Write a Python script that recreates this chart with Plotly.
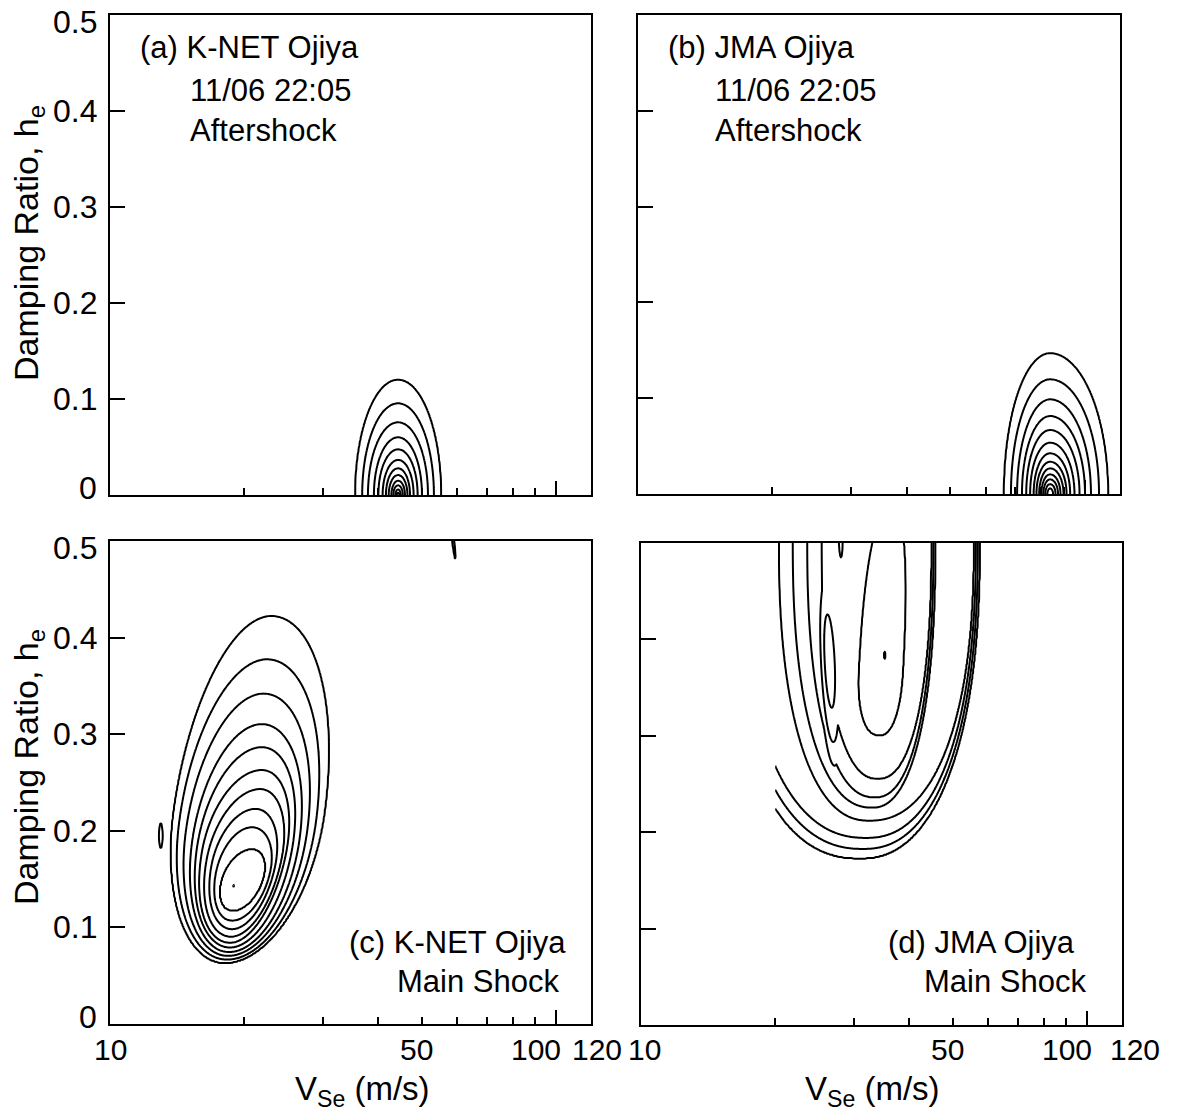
import numpy as np
import plotly.graph_objects as go

W, H = 1178, 1113
FONT = "Liberation Sans, Arial, Helvetica, sans-serif"
FS_YTICK = 32
FS_XTICK = 30
FS_CAPTION = 31
FS_YTITLE = 34
FS_XTITLE = 33

# ---------------- shared axes ----------------
V_RANGE = [10, 120]
H_RANGE = [0.0, 0.5]
Y_TICKS = [0.1, 0.2, 0.3, 0.4]
Y_LABEL_VALUES = [0, 0.1, 0.2, 0.3, 0.4, 0.5]
Y_LABEL_TEXT = ["0", "0.1", "0.2", "0.3", "0.4", "0.5"]
X_MAJOR = [10, 100]
X_MINOR = [20, 30, 40, 50, 60, 70, 80, 90]
X_LABEL_VALUES = [10, 50, 100, 120]
X_LABEL_TEXT = ["10", "50", "100", "120"]

# ---------------- (a) K-NET Ojiya, aftershock ----------------
# misfit contours (outer -> inner) resting on h = 0
a_center_V = 44.3
a_left_V = [35.5, 36.8, 37.9, 39.1, 40.0, 40.9, 41.6, 42.2, 42.8, 43.2, 43.7, 44.0]
a_right_V = [55.3, 53.3, 51.7, 50.1, 49.0, 48.0, 47.1, 46.5, 45.9, 45.4, 44.9, 44.6]
a_top_h = [0.120, 0.0955, 0.0757, 0.0601, 0.0476, 0.0365, 0.0278, 0.0208, 0.0149,
           0.0101, 0.0059, 0.0024]

# ---------------- (b) JMA Ojiya, aftershock ----------------
b_center_V = 83.7
b_left_V = [66.0, 68.4, 70.6, 72.4, 74.0, 75.5, 76.9, 78.0, 79.1, 80.0, 80.8, 81.6, 82.5]
b_right_V = [112.8, 107.7, 103.3, 100.2, 97.4, 94.9, 92.8, 91.1, 89.7, 88.3, 87.2, 86.1, 85.0]
b_top_h = [0.1468, 0.1197, 0.0988, 0.0814, 0.0668, 0.0536, 0.0425, 0.0337, 0.0268,
           0.0205, 0.0153, 0.0104, 0.0059]

# ---------------- (c) K-NET Ojiya, main shock ----------------
# extreme points of each closed contour (outer -> inner, last = minimum)
c_left_V = [13.9, 14.3, 14.8, 15.3, 15.7, 16.1, 16.5, 16.9, 17.3, 17.8, 18.85]
c_right_V = [30.3, 29.0, 27.7, 26.6, 25.7, 24.9, 24.3, 23.5, 22.9, 22.1, 18.95]
c_side_h = [0.22, 0.21, 0.20, 0.19, 0.185, 0.18, 0.172, 0.165, 0.158, 0.15, 0.143]
c_bottom_h = [0.0634, 0.0666, 0.0705, 0.0744, 0.0792, 0.0840, 0.0903, 0.0981, 0.1069,
              0.1168, 0.1415]
c_top_h = [0.4222, 0.3775, 0.3420, 0.3104, 0.2866, 0.2629, 0.2432, 0.2227, 0.2037,
           0.1812, 0.1445]
c_bottom_V = [18.1, 18.3, 18.4, 18.5, 18.6, 18.6, 18.7, 18.8, 18.8, 18.9, 18.9]
c_top_V = [23.0, 22.5, 22.1, 21.9, 21.9, 21.9, 21.7, 21.2, 20.8, 20.8, 18.9]
# isolated pieces of the outermost level
c_island = [(13.0, 0.208), (13.0, 0.182)]
c_fragment = [(57.8, 0.53), (59.6, 0.48)]

# ---------------- (d) JMA Ojiya, main shock ----------------
# contours open above the searched range (outer -> inner, last = minimum);
# the search starts at V = 20 m/s, so the outer three end on that edge
d_left_V = [15.2, 15.9, 16.7, 20.4, 21.9, 23.6, 25.4, 30.8, 35.1]
d_right_V = [57.5, 57.0, 56.4, 55.9, 45.7, 45.3, 44.9, 38.8, 35.3]
d_side_h = [0.5, 0.5, 0.5, 0.5, 0.5, 0.5, 0.5, 0.37, 0.3835]
d_bottom_h = [0.173, 0.1826, 0.194, 0.212, 0.2255, 0.236, 0.255, 0.300, 0.380]
d_top_h = [0.8, 0.8, 0.8, 0.8, 0.8, 0.8, 0.8, 0.54, 0.387]
d_bottom_V = [31.0, 31.5, 32.0, 32.5, 33.0, 33.5, 34.0, 34.3, 35.2]
d_top_V = [31.0, 31.5, 32.0, 32.5, 33.0, 33.5, 34.0, 36.5, 35.2]
d_loop = [(26.2, 0.426), (26.8, 0.329)]
d_spike = [(28.0, 0.53), (28.1, 0.485)]
d_feature_level = 7
d_V_start = 20.0

# ---------------- surface construction ----------------
PX_DEC = 481 / np.log10(12.0)
PX_H = 480 / 0.5


def ring(LV, HH, xl, xr, yb, yt, xb, xt, cy, p=2.0):
    up_len = yt - cy
    dn_len = cy - yb
    cx = xb + (xt - xb) * dn_len / (up_len + dn_len)
    dy = HH - cy
    up = dy >= 0
    axis = np.where(up, cx + (xt - cx) * dy / up_len, cx + (xb - cx) * (-dy) / dn_len)
    dx = LV - axis
    sx = np.where(dx < 0, cx - xl, xr - cx)
    sy = np.where(up, up_len, dn_len)
    return np.abs(dx / sx) ** p + np.abs(dy / sy) ** p


def level_field(LV, HH, rings, p=2.0):
    lg = np.stack([np.log(np.maximum(ring(LV, HH, *r, p=p), 1e-12)) for r in rings])
    n = len(rings)
    z = -np.minimum(lg[0], 1.0)
    for k in range(n - 1):
        a, b = lg[k], lg[k + 1]
        sel = (a <= 0) & (b > 0)
        with np.errstate(divide="ignore", invalid="ignore"):
            frac = np.where(sel, -a / np.where(sel, b - a, 1.0), 0.0)
        z = np.where(sel, k + frac, z)
    z = np.where(lg[-1] <= 0, n - 1 + 0.5 * np.minimum(-lg[-1], 1.0), z)
    return z


def blob(LV, HH, ends, half_w, level):
    (v1, h1), (v2, h2) = ends
    x1, y1 = np.log10(v1) * PX_DEC, h1 * PX_H
    x2, y2 = np.log10(v2) * PX_DEC, h2 * PX_H
    mx, my = (x1 + x2) / 2, (y1 + y2) / 2
    half_len = np.hypot(x2 - x1, y2 - y1) / 2
    ux, uy = (x2 - x1) / (2 * half_len), (y2 - y1) / (2 * half_len)
    X, Y = LV * PX_DEC, HH * PX_H
    along = ((X - mx) * ux + (Y - my) * uy) / half_len
    across = (-(X - mx) * uy + (Y - my) * ux) / half_w
    return level + 0.5 * (1 - along ** 2 - across ** 2)


def grid(v_lo, nx=460, ny=460):
    lv = np.linspace(np.log10(v_lo), np.log10(V_RANGE[1]), nx)
    hh = np.linspace(H_RANGE[0], H_RANGE[1], ny)
    LV, HH = np.meshgrid(lv, hh)
    return lv, hh, LV, HH


def arch_rings(center, left, right, top):
    c = np.log10(center)
    return [(np.log10(l), np.log10(r), -t, t, c, c, 0.0) for l, r, t in zip(left, right, top)]


def general_rings(left, right, side, bottom, top, bottom_v, top_v):
    return [(np.log10(l), np.log10(r), yb, yt, np.log10(xb), np.log10(xt), cy)
            for l, r, cy, yb, yt, xb, xt in zip(left, right, side, bottom, top, bottom_v, top_v)]


panels = []

lv, hh, LV, HH = grid(V_RANGE[0])
za = level_field(LV, HH, arch_rings(a_center_V, a_left_V, a_right_V, a_top_h))
panels.append((lv, hh, za, len(a_top_h)))

zb = level_field(LV, HH, arch_rings(b_center_V, b_left_V, b_right_V, b_top_h))
panels.append((lv, hh, zb, len(b_top_h)))

zc = level_field(LV, HH, general_rings(c_left_V, c_right_V, c_side_h, c_bottom_h,
                                       c_top_h, c_bottom_V, c_top_V))
zc = np.maximum(zc, blob(LV, HH, c_island, 1.8, 0))
zc = np.maximum(zc, blob(LV, HH, c_fragment, 1.2, 0))
panels.append((lv, hh, zc, len(c_top_h)))

lvd, hhd, LVd, HHd = grid(d_V_start)
zd = level_field(LVd, HHd, general_rings(d_left_V, d_right_V, d_side_h, d_bottom_h,
                                         d_top_h, d_bottom_V, d_top_V), p=2.3)
zd = np.maximum(zd, blob(LVd, HHd, d_loop, 5.0, d_feature_level))
zd = np.maximum(zd, blob(LVd, HHd, d_spike, 2.0, d_feature_level))
panels.append((lvd, hhd, zd, len(d_top_h)))

# ---------------- figure ----------------
fig = go.Figure()
axis_ids = [("x", "y"), ("x2", "y2"), ("x3", "y3"), ("x4", "y4")]
for (lvp, hhp, z, nlev), (xa, ya) in zip(panels, axis_ids):
    fig.add_trace(go.Contour(
        x=10 ** lvp, y=hhp, z=z, xaxis=xa, yaxis=ya,
        contours=dict(start=0, end=nlev - 1, size=1, coloring="lines"),
        colorscale=[[0, "black"], [1, "black"]],
        line=dict(width=2, smoothing=0.8),
        showscale=False, hoverinfo="skip",
    ))

# panel boxes in pixels: left, right, top, bottom
boxes = [(110, 591, 15, 495), (638, 1120, 15, 494), (110, 591, 541, 1024), (641, 1122, 543, 1025)]

x_axis = dict(type="log", range=[np.log10(V_RANGE[0]), np.log10(V_RANGE[1])],
              showline=True, linecolor="black", linewidth=2, mirror=True,
              ticks="inside", tickvals=X_MAJOR, ticklen=14, tickwidth=1.5, tickcolor="black",
              showticklabels=False, showgrid=False, zeroline=False,
              minor=dict(tickvals=X_MINOR, ticks="inside", ticklen=7, tickwidth=1.5,
                         tickcolor="black", showgrid=False))
y_axis = dict(range=H_RANGE, showline=True, linecolor="black", linewidth=2, mirror=True,
              ticks="inside", tickvals=Y_TICKS, ticklen=15, tickwidth=1.5, tickcolor="black",
              showticklabels=False, showgrid=False, zeroline=False)

layout_axes = {}
for i, (l, r, t, b) in enumerate(boxes):
    sfx = "" if i == 0 else str(i + 1)
    layout_axes["xaxis" + sfx] = dict(x_axis, domain=[l / W, r / W], anchor="y" + sfx)
    layout_axes["yaxis" + sfx] = dict(y_axis, domain=[1 - b / H, 1 - t / H], anchor="x" + sfx)

fig.update_layout(width=W, height=H, margin=dict(l=0, r=0, t=0, b=0),
                  paper_bgcolor="white", plot_bgcolor="white", showlegend=False,
                  font=dict(family=FONT, size=FS_XTICK, color="black"), **layout_axes)

ann = []
# y tick labels on the left panels
for ya in ("y", "y3"):
    for v, t in zip(Y_LABEL_VALUES, Y_LABEL_TEXT):
        shift = 7 if v == H_RANGE[0] else (-7 if v == H_RANGE[1] else 0)
        ann.append(dict(x=99 / W, xref="paper", xanchor="right", y=v, yref=ya,
                        yanchor="middle", yshift=shift, text=t, showarrow=False,
                        font=dict(size=FS_YTICK)))
# x tick labels under the lower panels (nudged apart where they crowd)
X_LABEL_SHIFT = {"x3": [0, -5, -20, 6], "x4": [3, -5, -20, 13]}
for xa in ("x3", "x4"):
    for v, t, s in zip(X_LABEL_VALUES, X_LABEL_TEXT, X_LABEL_SHIFT[xa]):
        ann.append(dict(x=np.log10(v), xref=xa, xanchor="center", xshift=s,
                        y=1 - 1049 / H, yref="paper", yanchor="middle",
                        text=t, showarrow=False, font=dict(size=FS_XTICK)))
# axis titles
for yc in (243, 767):
    ann.append(dict(x=28 / W, y=1 - yc / H, xref="paper", yref="paper", textangle=-90,
                    text="Damping Ratio, h<sub>e</sub>", showarrow=False,
                    xanchor="center", yanchor="middle", font=dict(size=FS_YTITLE)))
for xc in (362, 872):
    ann.append(dict(x=xc / W, y=1 - 1091 / H, xref="paper", yref="paper",
                    text="V<sub>Se</sub> (m/s)", showarrow=False,
                    xanchor="center", yanchor="middle", font=dict(size=FS_XTITLE)))

# panel captions: (text, x px, y px, anchor)
captions = [
    ("(a) K-NET Ojiya", 138, 48, "left"), ("11/06 22:05", 188, 91, "left"),
    ("Aftershock", 188, 131, "left"),
    ("(b) JMA Ojiya", 666, 48, "left"), ("11/06 22:05", 713, 91, "left"),
    ("Aftershock", 713, 131, "left"),
    ("(c) K-NET Ojiya", 568, 942, "right"), ("Main Shock", 561, 981, "right"),
    ("(d) JMA Ojiya", 886, 942, "left"), ("Main Shock", 922, 981, "left"),
]
for t, xp, yp, anc in captions:
    ann.append(dict(x=xp / W, y=1 - yp / H, xref="paper", yref="paper", text=t,
                    showarrow=False, xanchor=anc, yanchor="middle",
                    font=dict(size=FS_CAPTION)))

fig.update_layout(annotations=ann)
fig.write_html("out.html")
